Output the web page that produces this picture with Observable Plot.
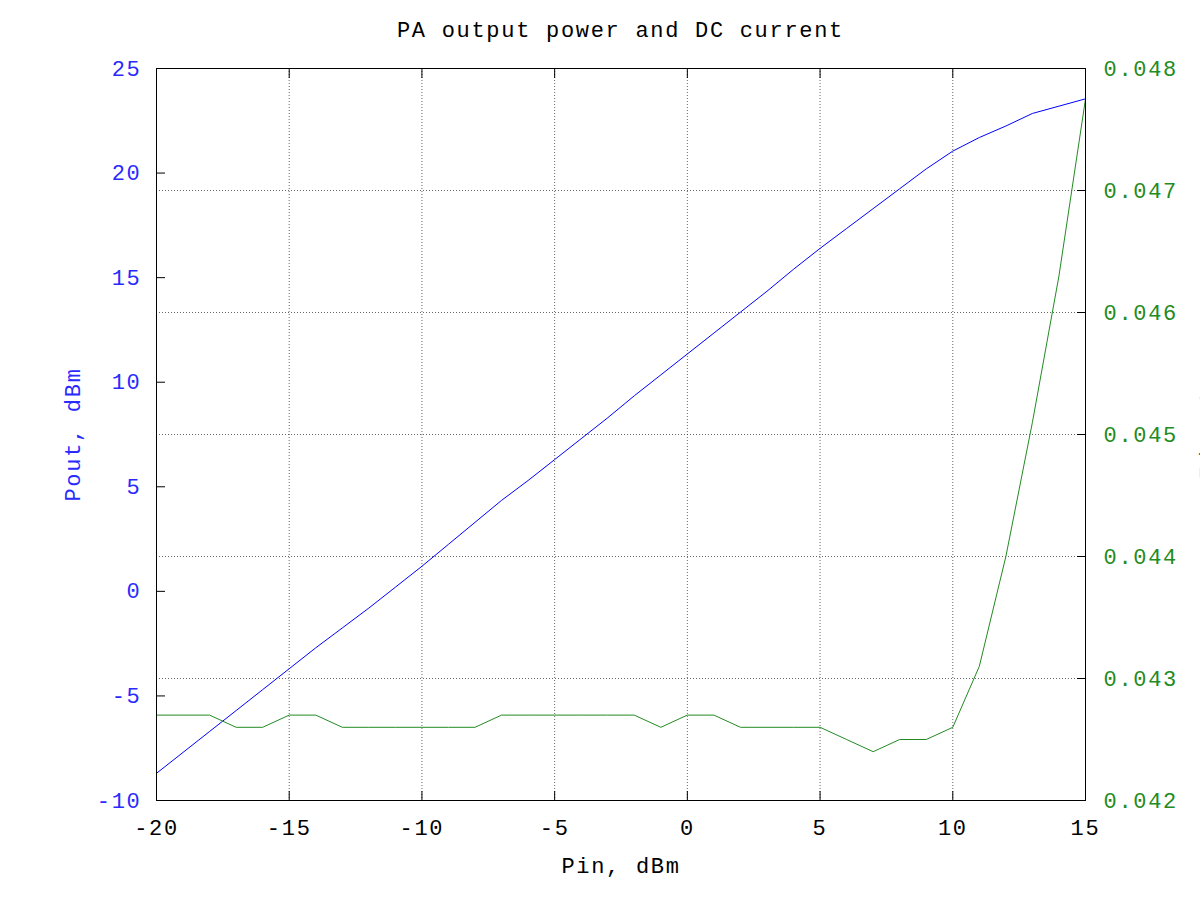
<!DOCTYPE html>
<html>
<head>
<meta charset="utf-8">
<script src="https://cdn.jsdelivr.net/npm/d3@7"></script>
<script src="https://cdn.jsdelivr.net/npm/@observablehq/plot@0.6"></script>
<style>
  body { margin: 0; background: #fff; }
  #wrap { width: 1200px; height: 900px; position: relative; overflow: hidden; font-family: "Liberation Mono", monospace; }
  #chart { position: absolute; left: 0; top: 0; }
  #title { position: absolute; left: 0; top: 0; width: 1241px; height: 62px; line-height: 64px; text-align: center; font-size: 22px; letter-spacing: 1.7px; color: #000; z-index: 2; }
</style>
</head>
<body>
<div id="wrap">
  <div id="chart"></div>
  <div id="title">PA output power and DC current</div>
</div>
<script>
// Input power, dBm
const pin = [-20,-19,-18,-17,-16,-15,-14,-13,-12,-11,-10,-9,-8,-7,-6,-5,-4,-3,-2,-1,0,1,2,3,4,5,6,7,8,9,10,11,12,13,14,15];
// Output power, dBm
const pout = [-8.7,-7.7,-6.7,-5.7,-4.7,-3.7,-2.7,-1.75,-0.8,0.2,1.2,2.25,3.3,4.35,5.3,6.3,7.3,8.3,9.35,10.35,11.35,12.35,13.35,14.35,15.4,16.4,17.35,18.3,19.25,20.2,21.05,21.7,22.25,22.85,23.2,23.55];
// DC current, A
const idc = [0.0427,0.0427,0.0427,0.0426,0.0426,0.0427,0.0427,0.0426,0.0426,0.0426,0.0426,0.0426,0.0426,0.0427,0.0427,0.0427,0.0427,0.0427,0.0427,0.0426,0.0427,0.0427,0.0426,0.0426,0.0426,0.0426,0.0425,0.0424,0.0425,0.0425,0.0426,0.0431,0.0440,0.0451,0.0463,0.04775];

const xTicks = [-20,-15,-10,-5,0,5,10,15];
const yTicks = [-10,-5,0,5,10,15,20,25];
const y2Ticks = [0.042,0.043,0.044,0.045,0.046,0.047,0.048];
const y2Labels = ["0.042","0.043","0.044","0.045","0.046","0.047","0.048"];

const yDomain = [-10, 25];
const y2Domain = [0.042, 0.048];
const toLeft = v => yDomain[0] + (v - y2Domain[0]) / (y2Domain[1] - y2Domain[0]) * (yDomain[1] - yDomain[0]);

const rows = pin.map((p, i) => ({pin: p, pout: pout[i], idc: idc[i]}));
const y2Pos = y2Ticks.map(toLeft);

const blue = "#2a2aff";
const green = "#228b22";
const gridStyle = {stroke: "#333", strokeOpacity: 0.75, strokeDasharray: "1,2"};

const chart = Plot.plot({
  width: 1200,
  height: 900,
  marginLeft: 156,
  marginRight: 115,
  marginTop: 68,
  marginBottom: 100,
  style: {fontFamily: "Liberation Mono, monospace", fontSize: "22px", letterSpacing: "1.7px", background: "#fff", color: "#000", overflow: "hidden"},
  x: {domain: [-20, 15]},
  y: {domain: yDomain},
  marks: [
    Plot.gridX(xTicks, gridStyle),
    Plot.gridY(y2Pos.slice(1, -1), gridStyle),
    Plot.line(rows, {x: "pin", y: "pout", stroke: "#0000ff", strokeWidth: 1}),
    Plot.line(rows, {x: "pin", y: d => toLeft(d.idc), stroke: green, strokeWidth: 1}),
    Plot.frame({stroke: "#000", strokeWidth: 1}),
    Plot.axisX(xTicks, {anchor: "bottom", tickSize: -9, tickPadding: 28, label: null, fill: "#000", stroke: "#000", tickFormat: d => String(d)}),
    Plot.axisX(xTicks, {anchor: "top", tickSize: -9, tickFormat: () => "", label: null, stroke: "#000"}),
    Plot.axisY(yTicks, {anchor: "left", tickSize: -9, tickPadding: 24, label: null, fill: blue, stroke: "#000", tickFormat: d => String(d)}),
    Plot.axisY(y2Pos, {anchor: "right", tickSize: -9, tickPadding: 27, label: null, fill: green, stroke: "#000", tickFormat: (d, i) => y2Labels[i]}),
    Plot.text(["Pin, dBm"], {frameAnchor: "bottom", dy: 65, fill: "#000", lineAnchor: "middle", textAnchor: "middle"}),
    Plot.text(["Pout, dBm"], {frameAnchor: "left", dx: -84, rotate: -90, fill: blue, lineAnchor: "middle", textAnchor: "middle"}),
    Plot.text(["Idc, A"], {frameAnchor: "right", dx: 122, rotate: -90, fill: green, lineAnchor: "middle", textAnchor: "middle"})
  ]
});
document.getElementById("chart").appendChild(chart);
</script>
</body>
</html>
